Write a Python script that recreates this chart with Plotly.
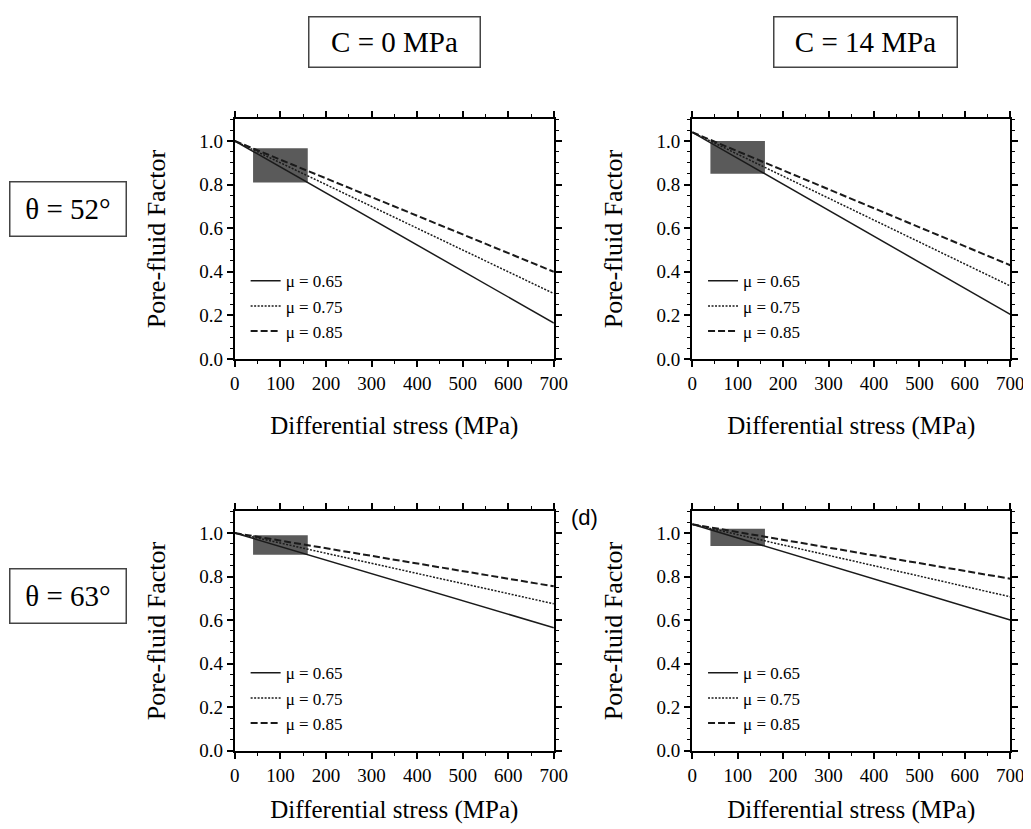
import plotly.graph_objects as go

# ---------------- data ----------------
stress = [0, 700]                      # differential stress (MPa), line end points
mu_labels = ["μ = 0.65", "μ = 0.75", "μ = 0.85"]
dashes = ["solid", "2px,1.5px", "7px,3px"]

# pore-fluid factor at stress = 0 and 700 MPa for mu = 0.65, 0.75, 0.85
lam_c0_t52 = [[1.00, 0.165], [1.00, 0.300], [1.00, 0.400]]
lam_c14_t52 = [[1.04, 0.205], [1.04, 0.335], [1.04, 0.430]]
lam_c0_t63 = [[1.00, 0.565], [1.00, 0.675], [1.00, 0.755]]
lam_c14_t63 = [[1.04, 0.600], [1.04, 0.707], [1.04, 0.790]]

# shaded boxes (stress range, pore-fluid factor range)
box_stress = [40, 160]
box_c0_t52 = [0.81, 0.967]
box_c14_t52 = [0.85, 1.00]
box_c0_t63 = [0.90, 0.99]
box_c14_t63 = [0.94, 1.02]

col_titles = ["C = 0 MPa", "C = 14 MPa"]
row_titles = ["θ = 52°", "θ = 63°"]
x_ticks = [0, 100, 200, 300, 400, 500, 600, 700]
y_ticks = [0.0, 0.2, 0.4, 0.6, 0.8, 1.0]

# ---------------- layout helpers ----------------
W, H = 1031, 829
SERIF = "Liberation Serif, Times New Roman, serif"

def px_x(p):
    return p / W

def px_y(p):
    return 1 - p / H

panels = [
    # (series, box y, x pixel range, y pixel range, axis suffix, legend name, title standoff)
    (lam_c0_t52, box_c0_t52, (226, 551), (112.7, 355.7), "", "legend", 24),
    (lam_c14_t52, box_c14_t52, (692, 1016), (112.7, 355.7), "2", "legend2", 24),
    (lam_c0_t63, box_c0_t63, (226, 551), (510, 752.7), "3", "legend3", 16),
    (lam_c14_t63, box_c14_t63, (692, 1016), (510, 752.7), "4", "legend4", 16),
]

fig = go.Figure()
layout = dict(
    width=W, height=H,
    margin=dict(l=0, r=0, t=0, b=0),
    paper_bgcolor="white", plot_bgcolor="white",
    font=dict(family=SERIF, color="black"),
    shapes=[], annotations=[],
)

line_widths = [1.5, 1.5, 2.0]
for series, boxy, (x0, x1), (y0, y1), suf, leg, xstand in panels:
    xa = "x" + suf
    ya = "y" + suf
    # shaded box (beneath lines)
    layout["shapes"].append(dict(
        type="rect", xref=xa, yref=ya, layer="below",
        x0=box_stress[0], x1=box_stress[1], y0=boxy[0], y1=boxy[1],
        fillcolor="#5a5a5a", line=dict(width=0),
    ))
    for vals, name, dash, lw in zip(series, mu_labels, dashes, line_widths):
        fig.add_trace(go.Scatter(
            x=stress, y=vals, mode="lines", name=name,
            line=dict(color="#1a1a1a", width=lw, dash=dash),
            xaxis=xa, yaxis=ya, legend=leg, showlegend=True,
        ))
    axis_common = dict(
        showline=True, linecolor="black", linewidth=2.2, mirror="allticks",
        ticks="outside", ticklen=6, tickwidth=1.6, tickcolor="black",
        showgrid=False, zeroline=False,
        tickfont=dict(family=SERIF, size=19, color="black"),
    )
    layout["xaxis" + suf] = dict(
        axis_common, domain=[px_x(x0), px_x(x1)], anchor=ya,
        range=[0, 700], tickvals=x_ticks,
        minor=dict(dtick=50, ticklen=3, tickwidth=1.3, ticks="outside", tickcolor="black"),
        title=dict(text="Differential stress (MPa)", font=dict(family=SERIF, size=25), standoff=xstand),
    )
    layout["yaxis" + suf] = dict(
        axis_common, domain=[px_y(y1), px_y(y0)], anchor=xa,
        range=[0, 1.1], tickvals=y_ticks, tickformat=".1f",
        minor=dict(dtick=0.05, ticklen=3, tickwidth=1.3, ticks="outside", tickcolor="black"),
        title=dict(text="Pore-fluid Factor", font=dict(family=SERIF, size=26), standoff=26),
    )
    layout[leg] = dict(
        x=px_x(x0 + 11), y=px_y(y0 + 146), xanchor="left", yanchor="top",
        bgcolor="rgba(0,0,0,0)", borderwidth=0,
        font=dict(family=SERIF, size=17, color="black"),
        itemwidth=30, tracegroupgap=0,
    )

# column headers
for txt, cx, bw in zip(col_titles, [389, 868], [170, 182]):
    layout["annotations"].append(dict(
        text=txt, xref="paper", yref="paper", x=px_x(cx), y=px_y(34),
        xanchor="center", yanchor="middle", showarrow=False,
        font=dict(family=SERIF, size=29, color="black"),
        bordercolor="#444", borderwidth=1.5, borderpad=0,
        width=bw, height=49, bgcolor="white",
    ))
# row headers
for txt, cy in zip(row_titles, [204, 596]):
    layout["annotations"].append(dict(
        text=txt, xref="paper", yref="paper", x=px_x(56), y=px_y(cy),
        xanchor="center", yanchor="middle", showarrow=False,
        font=dict(family=SERIF, size=29, color="black"),
        bordercolor="#444", borderwidth=1.5, borderpad=0,
        width=115, height=53, bgcolor="white",
    ))
# panel label
layout["annotations"].append(dict(
    text="(d)", xref="paper", yref="paper", x=px_x(582), y=px_y(516),
    xanchor="center", yanchor="middle", showarrow=False,
    font=dict(family="Liberation Sans, Arial, sans-serif", size=22, color="black"),
))

fig.update_layout(**layout)
fig.write_html("out.html")
